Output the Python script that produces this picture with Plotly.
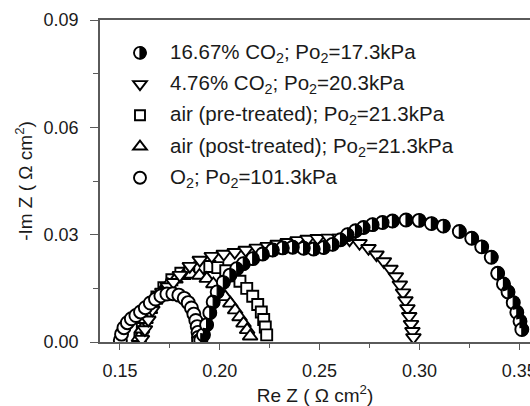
import plotly.graph_objects as go

# ---------------- data ----------------
co2_1667_re = [0.1905, 0.1918, 0.1934, 0.1950, 0.1967, 0.1987, 0.2018, 0.2051, 0.2085, 0.2118,
               0.2165, 0.2215, 0.2265, 0.2315, 0.2365, 0.2420, 0.2470, 0.2520, 0.2565, 0.2605,
               0.2640, 0.2680, 0.2720, 0.2765, 0.2815, 0.2865, 0.2933, 0.2998, 0.3060, 0.3120,
               0.3200, 0.3262, 0.3312, 0.3360, 0.3392, 0.3421, 0.3444, 0.3470, 0.3488, 0.3504, 0.3513]
co2_1667_im = [0.0005, 0.0020, 0.0048, 0.0082, 0.0112, 0.0140, 0.0167, 0.0187, 0.0205, 0.0219,
               0.0233, 0.0246, 0.0257, 0.0263, 0.0265, 0.0262, 0.0260, 0.0264, 0.0273, 0.0286,
               0.0300, 0.0311, 0.0320, 0.0328, 0.0334, 0.0338, 0.0341, 0.0340, 0.0331, 0.0324,
               0.0309, 0.0290, 0.0266, 0.0237, 0.0192, 0.0162, 0.0140, 0.0110, 0.0083, 0.0058, 0.0035]

co2_476_re = [0.1610, 0.1625, 0.1642, 0.1662, 0.1685, 0.1712, 0.1740, 0.1768, 0.1800, 0.1850,
              0.1900, 0.1960, 0.2020, 0.2075, 0.2130, 0.2185, 0.2240, 0.2290, 0.2340, 0.2390,
              0.2440, 0.2490, 0.2545, 0.2600, 0.2650, 0.2700, 0.2745, 0.2785, 0.2822, 0.2855,
              0.2882, 0.2902, 0.2918, 0.2930, 0.2940, 0.2949, 0.2958, 0.2965, 0.2970]
co2_476_im = [0.0008, 0.0035, 0.0062, 0.0090, 0.0116, 0.0140, 0.0155, 0.0167, 0.0187, 0.0212,
              0.0229, 0.0240, 0.0246, 0.0251, 0.0257, 0.0263, 0.0268, 0.0274, 0.0279, 0.0284,
              0.0288, 0.0290, 0.0291, 0.0291, 0.0286, 0.0276, 0.0262, 0.0244, 0.0225, 0.0204,
              0.0183, 0.0160, 0.0138, 0.0116, 0.0094, 0.0072, 0.0050, 0.0030, 0.0013]

air_pre_re = [0.1600, 0.1612, 0.1630, 0.1655, 0.1685, 0.1720, 0.1760, 0.1805, 0.1850, 0.1900,
              0.1950, 0.1990, 0.2030, 0.2067, 0.2101, 0.2135, 0.2165, 0.2190, 0.2208, 0.2220,
              0.2228, 0.2235]
air_pre_im = [0.0010, 0.0038, 0.0068, 0.0098, 0.0126, 0.0152, 0.0174, 0.0192, 0.0203, 0.0208,
              0.0211, 0.0208, 0.0199, 0.0185, 0.0170, 0.0150, 0.0128, 0.0105, 0.0084, 0.0063,
              0.0042, 0.0020]

air_post_re = [0.1595, 0.1610, 0.1628, 0.1650, 0.1676, 0.1706, 0.1740, 0.1778, 0.1818, 0.1858,
               0.1898, 0.1935, 0.1968, 0.1998, 0.2027, 0.2053, 0.2077, 0.2099, 0.2119, 0.2137, 0.2152]
air_post_im = [0.0012, 0.0036, 0.0062, 0.0090, 0.0116, 0.0140, 0.0160, 0.0175, 0.0185, 0.0189,
               0.0186, 0.0177, 0.0162, 0.0144, 0.0126, 0.0108, 0.0089, 0.0070, 0.0052, 0.0034, 0.0016]

o2_re = [0.1502, 0.1508, 0.1520, 0.1537, 0.1557, 0.1580, 0.1603, 0.1627, 0.1652, 0.1678,
         0.1705, 0.1735, 0.1765, 0.1795, 0.1822, 0.1842, 0.1858, 0.1870, 0.1880, 0.1887,
         0.1891, 0.1893, 0.1894]
o2_im = [0.0005, 0.0022, 0.0040, 0.0054, 0.0065, 0.0074, 0.0084, 0.0096, 0.0109, 0.0120,
         0.0129, 0.0134, 0.0135, 0.0131, 0.0122, 0.0110, 0.0095, 0.0078, 0.0060, 0.0043,
         0.0027, 0.0013, 0.0003]

legend_labels = [
    "16.67% CO<sub>2</sub>; Po<sub>2</sub>=17.3kPa",
    "4.76% CO<sub>2</sub>; Po<sub>2</sub>=20.3kPa",
    "air (pre-treated); Po<sub>2</sub>=21.3kPa",
    "air (post-treated); Po<sub>2</sub>=21.3kPa",
    "O<sub>2</sub>; Po<sub>2</sub>=101.3kPa",
]

x_ticks = [0.15, 0.20, 0.25, 0.30, 0.35]
y_ticks = [0.00, 0.03, 0.06, 0.09]

# ---------------- styling ----------------
FONT = "Liberation Sans, Arial, sans-serif"
TXT = "#1a1a1a"
AX = "#5a5a5a"
LW = 1.9

fig = go.Figure()

def add_series(xs, ys, symbol, size, name):
    fig.add_trace(go.Scatter(
        x=xs, y=ys, mode="markers", name=name, showlegend=False,
        marker=dict(symbol=symbol, size=size, color="white",
                    line=dict(color="black", width=LW)),
        hoverinfo="skip"))

add_series(air_pre_re, air_pre_im, "square", 11, legend_labels[2])
add_series(air_post_re, air_post_im, "triangle-up", 13, legend_labels[3])
add_series(co2_476_re, co2_476_im, "triangle-down", 13, legend_labels[1])
add_series(o2_re, o2_im, "circle", 13, legend_labels[4])
add_series(co2_1667_re, co2_1667_im, "circle", 13, legend_labels[0])

# right half of the half-filled circles (pixel-sized, anchored at each data point)
R = 6.5
K = 0.5523 * R
HALF = (f"M0,{R} C{K},{R} {R},{K} {R},0 C{R},{-K} {K},{-R} 0,{-R} Z")
shapes = []
for xv, yv in zip(co2_1667_re, co2_1667_im):
    shapes.append(dict(type="path", xref="x", yref="y", xsizemode="pixel", ysizemode="pixel",
                       xanchor=xv, yanchor=yv, path=HALF, fillcolor="black",
                       line=dict(color="black", width=1.2), layer="above"))

# ---------------- manual legend ----------------
leg_x = 0.093
leg_tx = 0.158
leg_y = [0.898, 0.801, 0.704, 0.607, 0.510]
RL = 6.0
KL = 0.5523 * RL
HALF_L = (f"M0,{RL} C{KL},{RL} {RL},{KL} {RL},0 C{RL},{-KL} {KL},{-RL} 0,{-RL} Z")
rt = 6.93
sym_paths = [
    None,
    f"M{-rt},3 L{rt},3 L0,-6 Z",
    "M-5,-5 L5,-5 L5,5 L-5,5 Z",
    f"M{-rt},-3 L{rt},-3 L0,6 Z",
    None,
]
for i, yy in enumerate(leg_y):
    common = dict(xref="paper", yref="paper", xsizemode="pixel", ysizemode="pixel",
                  xanchor=leg_x, yanchor=yy, layer="above")
    if sym_paths[i] is None:
        shapes.append(dict(type="circle", x0=-RL, x1=RL, y0=-RL, y1=RL, fillcolor="white",
                           line=dict(color="black", width=LW), **common))
        if i == 0:
            shapes.append(dict(type="path", path=HALF_L, fillcolor="black",
                               line=dict(color="black", width=1.2), **common))
    else:
        shapes.append(dict(type="path", path=sym_paths[i], fillcolor="white",
                           line=dict(color="black", width=LW), **common))
    fig.add_annotation(x=leg_tx, y=yy, xref="paper", yref="paper", xanchor="left",
                       yanchor="middle", text=legend_labels[i], showarrow=False,
                       font=dict(family=FONT, size=20.5, color=TXT))

fig.update_layout(
    width=530, height=406,
    margin=dict(l=100, r=0, t=20, b=64, pad=0),
    paper_bgcolor="white", plot_bgcolor="white",
    font=dict(family=FONT, size=18, color=TXT),
    shapes=shapes,
    showlegend=False,
)
fig.update_xaxes(
    range=[0.14, 0.3554], tickvals=x_ticks, ticktext=[f"{v:.2f}" for v in x_ticks],
    ticks="outside", ticklen=6, tickwidth=1.3, tickcolor=AX, ticklabelstandoff=6,
    ticklabeloverflow="allow",
    minor=dict(tickvals=[0.175, 0.225, 0.275, 0.325], ticks="outside", ticklen=4,
               tickwidth=1.3, tickcolor=AX),
    showline=True, linecolor=AX, linewidth=1.6, mirror=True,
    showgrid=False, zeroline=False,
    title=dict(text="Re Z ( \u03a9 cm<sup>2</sup>)", font=dict(size=19, color=TXT), standoff=10),
    tickfont=dict(size=18, color=TXT), automargin=False,
)
fig.update_yaxes(
    range=[0, 0.09], tickvals=y_ticks, ticktext=[f"{v:.2f}" for v in y_ticks],
    ticks="outside", ticklen=8, tickwidth=1.3, tickcolor=AX, ticklabelstandoff=8,
    minor=dict(tickvals=[0.015, 0.045, 0.075], ticks="outside", ticklen=5,
               tickwidth=1.3, tickcolor=AX),
    showline=True, linecolor=AX, linewidth=1.6, mirror=False,
    showgrid=False, zeroline=False,
    title=dict(text="-Im Z ( \u03a9 cm<sup>2</sup>)", font=dict(size=19, color=TXT), standoff=6),
    tickfont=dict(size=18, color=TXT), automargin=False,
)

fig.write_html("out.html")
